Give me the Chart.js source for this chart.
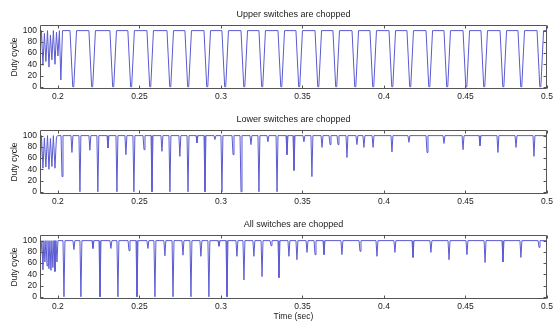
<!DOCTYPE html>
<html>
<head>
<meta charset="utf-8">
<script src="https://cdn.jsdelivr.net/npm/chart.js@4/dist/chart.umd.min.js"></script>
<style>
  html, body { margin: 0; padding: 0; background: #fff; }
  #wrap { position: relative; width: 555px; height: 325px; }
  canvas { position: absolute; left: 0; }
</style>
</head>
<body>
<div id="wrap">
  <canvas id="upper" width="555" height="105" style="top:0"></canvas>
  <canvas id="lower" width="555" height="105" style="top:105px"></canvas>
  <canvas id="all" width="555" height="115" style="top:210px"></canvas>
</div>
<script>
// duty cycle of the three chopping strategies, 0.19 s .. 0.5 s

const T_MIN = 0.189;
const T_MAX = 0.5;
const Y_MIN = -4;
const Y_MAX = 110;
const X_TICKS = [0.2, 0.25, 0.3, 0.35, 0.4, 0.45, 0.5];
const Y_TICKS = [0, 20, 40, 60, 80, 100];
const FULL_DUTY = 100;

// upper switches: start-up ripple, then notches down to zero
const UPPER_START_T = [0.1890, 0.1899, 0.1908, 0.1917, 0.1926, 0.1936, 0.1945, 0.1954,
  0.1963, 0.1972, 0.1982, 0.1991, 0.2000, 0.2009, 0.2018, 0.2028];
const UPPER_START_D = [55, 100, 38, 95, 45, 100, 35, 92, 48, 100, 40, 97, 55, 100, 12, 100];
const UPPER_NOTCH_T = [0.2074, 0.2190, 0.2319, 0.2429, 0.2546, 0.2669, 0.2779, 0.2896,
  0.3006, 0.3123, 0.3233, 0.3350, 0.3460, 0.3577, 0.3687, 0.3804, 0.3914, 0.4031,
  0.4141, 0.4258, 0.4368, 0.4485, 0.4595, 0.4712, 0.4822, 0.4939];
const UPPER_NOTCH_D = [0, 0, 0, 0, 0, 0, 0, 0, 0, 0, 0, 0, 0, 0, 0, 0, 0, 0, 0, 0, 0, 0, 0, 0, 0, 0];
const UPPER_NOTCH_W = 0.0040;

// lower switches: start-up ripple, then single dips
const LOWER_START_T = [0.1890, 0.1899, 0.1908, 0.1917, 0.1926, 0.1936, 0.1945, 0.1954,
  0.1963, 0.1972, 0.1982, 0.1991, 0.2000];
const LOWER_START_D = [32, 100, 42, 96, 44, 100, 40, 95, 45, 100, 42, 98, 100];
const LOWER_SPIKE_T = [0.2025, 0.2086, 0.2135, 0.2196, 0.2245, 0.2307, 0.2362, 0.2417,
  0.2466, 0.2528, 0.2577, 0.2638, 0.2687, 0.2748, 0.2798, 0.2853, 0.2902, 0.2963,
  0.3006, 0.3074, 0.3123, 0.3184, 0.3233, 0.3288, 0.3344, 0.3405, 0.3448, 0.3509,
  0.3558, 0.3620, 0.3669, 0.3718, 0.3773, 0.3834, 0.3877, 0.3933, 0.4049, 0.4153,
  0.4264, 0.4368, 0.4485, 0.4589, 0.4699, 0.4810, 0.4920];
const LOWER_SPIKE_D = [27, 70, 0, 74, 0, 78, 0, 66, 0, 75, 0, 72, 0, 63, 0, 87, 0, 93,
  0, 66, 0, 84, 0, 89, 0, 66, 38, 89, 27, 79, 84, 84, 61, 84, 79, 79, 71, 88,
  70, 86, 75, 82, 70, 79, 63];

// all switches: dips only
const ALL_SPIKE_T = [0.1896, 0.1908, 0.1920, 0.1933, 0.1945, 0.1957, 0.1969, 0.1982,
  0.1994, 0.2037, 0.2098, 0.2141, 0.2215, 0.2258, 0.2325, 0.2368, 0.2436, 0.2485,
  0.2552, 0.2595, 0.2656, 0.2706, 0.2767, 0.2816, 0.2877, 0.2926, 0.2988, 0.3037,
  0.3098, 0.3141, 0.3202, 0.3252, 0.3307, 0.3356, 0.3417, 0.3466, 0.3528, 0.3577,
  0.3632, 0.3742, 0.3853, 0.3957, 0.4067, 0.4178, 0.4288, 0.4399, 0.4509, 0.4620,
  0.4730, 0.4840, 0.4951];
const ALL_SPIKE_D = [70, 48, 62, 55, 50, 47, 52, 45, 62, 0, 84, 0, 86, 0, 86, 0, 82, 0,
  86, 0, 73, 0, 74, 0, 72, 0, 90, 0, 72, 30, 72, 36, 91, 34, 72, 66, 79, 75,
  75, 75, 81, 72, 79, 70, 79, 66, 75, 61, 62, 70, 88];
const SPIKE_HALF = 0.0006;

const LINE_COLOR = "#5a5ad2";
const AXIS_COLOR = "#555";
const TEXT_COLOR = "#222";
const FONT = "'Liberation Sans', Arial, Helvetica, sans-serif";
const TICK_LEN = 3;

function notchTrace(startT, startD, notchT, notchD, width) {
  const pts = startT.map((t, i) => ({ x: t, y: startD[i] }));
  const edge = width * 0.42;
  notchT.forEach((t, i) => {
    pts.push({ x: t, y: FULL_DUTY });
    pts.push({ x: t + edge, y: notchD[i] });
    pts.push({ x: t + width - edge, y: notchD[i] });
    pts.push({ x: t + width, y: FULL_DUTY });
  });
  pts.push({ x: T_MAX, y: FULL_DUTY });
  return pts;
}

function spikeTrace(startT, startD, spikeT, spikeD) {
  const pts = startT.map((t, i) => ({ x: t, y: startD[i] }));
  if (!pts.length) pts.push({ x: T_MIN, y: FULL_DUTY });
  spikeT.forEach((t, i) => {
    pts.push({ x: t - SPIKE_HALF, y: FULL_DUTY });
    pts.push({ x: t, y: spikeD[i] });
    pts.push({ x: t + SPIKE_HALF, y: FULL_DUTY });
  });
  pts.push({ x: T_MAX, y: FULL_DUTY });
  return pts;
}

// matlab-style box with inward ticks on all four sides
const boxTicks = {
  id: "boxTicks",
  afterDatasetsDraw(chart) {
    const { ctx, chartArea: a, scales: { x, y } } = chart;
    const l = Math.round(a.left) + 0.5, r = Math.round(a.right) - 0.5;
    const t = Math.round(a.top) + 0.5, b = Math.round(a.bottom) - 0.5;
    ctx.save();
    ctx.strokeStyle = AXIS_COLOR;
    ctx.lineWidth = 1;
    ctx.beginPath();
    ctx.rect(l, t, r - l, b - t);
    X_TICKS.forEach((v) => {
      const px = Math.round(x.getPixelForValue(v)) + 0.5;
      ctx.moveTo(px, b); ctx.lineTo(px, b - TICK_LEN);
      ctx.moveTo(px, t); ctx.lineTo(px, t + TICK_LEN);
    });
    Y_TICKS.forEach((v) => {
      const py = Math.round(y.getPixelForValue(v)) + 0.5;
      ctx.moveTo(l, py); ctx.lineTo(l + TICK_LEN, py);
      ctx.moveTo(r, py); ctx.lineTo(r - TICK_LEN, py);
    });
    ctx.stroke();
    ctx.restore();
  },
};

function panel(id, title, data, xAxisHeight, showTime) {
  return new Chart(document.getElementById(id), {
    type: "line",
    data: {
      datasets: [{
        data,
        borderColor: LINE_COLOR,
        borderWidth: 1,
        pointRadius: 0,
        tension: 0,
        fill: false,
      }],
    },
    options: {
      responsive: false,
      animation: false,
      devicePixelRatio: 1,
      layout: { padding: { left: 0, right: 8, top: 0, bottom: 0 } },
      plugins: {
        legend: { display: false },
        tooltip: { enabled: false },
        title: {
          display: true,
          fullSize: false,
          text: title,
          color: TEXT_COLOR,
          font: { family: FONT, size: 9, weight: "normal" },
          padding: { top: 9.6, bottom: 4.6 },
        },
      },
      scales: {
        x: {
          type: "linear",
          min: T_MIN,
          max: T_MAX,
          grid: { display: false, drawTicks: false },
          border: { display: false },
          ticks: {
            color: TEXT_COLOR,
            font: { family: FONT, size: 8.5 },
            padding: 2.5,
            autoSkip: false,
            maxRotation: 0,
            callback: (v) => String(Number(Number(v).toFixed(2))),
          },
          title: {
            display: showTime,
            text: "Time (sec)",
            color: TEXT_COLOR,
            font: { family: FONT, size: 8.5 },
            padding: { top: 0, bottom: 2.9 },
          },
          afterBuildTicks: (s) => { s.ticks = X_TICKS.map((v) => ({ value: v })); },
          afterFit: (s) => { s.height = xAxisHeight; s.paddingLeft = 0; s.paddingRight = 0; },
        },
        y: {
          min: Y_MIN,
          max: Y_MAX,
          grid: { display: false, drawTicks: false },
          border: { display: false },
          ticks: {
            color: TEXT_COLOR,
            font: { family: FONT, size: 8.5 },
            padding: 3,
            autoSkip: false,
          },
          title: {
            display: true,
            text: "Duty cycle",
            color: TEXT_COLOR,
            font: { family: FONT, size: 8.5 },
            padding: { top: 10, bottom: 0 },
          },
          afterBuildTicks: (s) => { s.ticks = Y_TICKS.map((v) => ({ value: v })); },
          afterFit: (s) => { s.width = 40; s.paddingTop = 0; s.paddingBottom = 0; },
        },
      },
    },
    plugins: [boxTicks],
  });
}

panel("upper", "Upper switches are chopped",
  notchTrace(UPPER_START_T, UPPER_START_D, UPPER_NOTCH_T, UPPER_NOTCH_D, UPPER_NOTCH_W), 16, false);
panel("lower", "Lower switches are chopped",
  spikeTrace(LOWER_START_T, LOWER_START_D, LOWER_SPIKE_T, LOWER_SPIKE_D), 16, false);
panel("all", "All switches are chopped",
  spikeTrace([], [], ALL_SPIKE_T, ALL_SPIKE_D), 26, true);
</script>
</body>
</html>
